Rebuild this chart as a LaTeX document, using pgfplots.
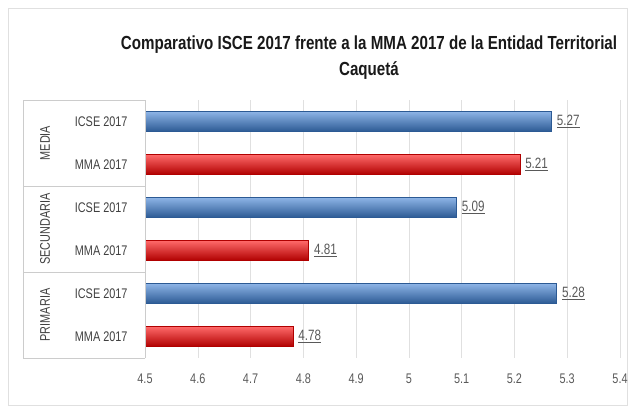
\documentclass[border=0pt]{standalone}
\usepackage{fontspec}
\setmainfont{Liberation Sans}[FakeStretch=0.78]
\newfontfamily\titlefont{Liberation Sans}[FakeStretch=0.8]
\usepackage{pgfplots}
\pgfplotsset{compat=1.18}
\definecolor{bluemid}{HTML}{4A7EC2}
\definecolor{bluetop}{HTML}{8DB4E6}
\definecolor{bluebot}{HTML}{2C5A94}
\definecolor{redmid}{HTML}{F20000}
\definecolor{redtop}{HTML}{FF6A6A}
\definecolor{redbot}{HTML}{B00000}
\pgfplotsset{
  bluebar/.style={draw=bluebot, top color=bluetop, middle color=bluemid, bottom color=bluebot},
  redbar/.style={draw=redbot, top color=redtop, middle color=redmid, bottom color=redbot},
}
\begin{document}
\begin{tikzpicture}[x=1bp,y=1bp]
\path[use as bounding box] (0,0) rectangle (634,410);
\draw[black!12] (8,5) rectangle (627,402);
\node[font=\titlefont\bfseries\fontsize{19}{22}\selectfont, text=black!90] at (369,365) {Comparativo ISCE 2017 frente a la MMA 2017 de la Entidad Territorial};
\node[font=\titlefont\bfseries\fontsize{19}{22}\selectfont, text=black!90] at (369,339) {Caquetá};
\begin{axis}[
  at={(145bp,52bp)}, anchor=south west,
  scale only axis, width=475bp, height=258bp,
  xmin=4.5, xmax=5.4, ymin=-0.5, ymax=5.5,
  xtick={4.5,4.6,4.7,4.8,4.9,5.0,5.1,5.2,5.3,5.4},
  xticklabels={4.5,4.6,4.7,4.8,4.9,5,5.1,5.2,5.3,5.4},
  ytick={0,1,2,3,4,5},
  yticklabels={MMA 2017,ICSE 2017,MMA 2017,ICSE 2017,MMA 2017,ICSE 2017},
  axis line style={draw=none},
  major tick length=0pt,
  xmajorgrids, grid style={black!12},
  /pgf/number format/assume math mode=true,
  xticklabel style={font=\fontsize{14}{16}\selectfont, text=black!65, yshift=-12bp},
  yticklabel style={font=\fontsize{14}{16}\selectfont, text=black!75, xshift=-14bp},
  bar width=20bp,
  xbar, bar shift=0pt,
  nodes near coords={\underline{\pgfmathprintnumber[fixed,fixed zerofill,precision=2]{\pgfplotspointmeta}}},
  nodes near coords align=horizontal,
  every node near coord/.append style={font=\fontsize{15}{17}\selectfont, text=black!65, anchor=west, xshift=2bp},
  point meta=explicit symbolic,
]
% ICSE 2017 (blue)
\addplot[bluebar] coordinates {(5.27,5) [5.27]};
\addplot[bluebar] coordinates {(5.09,3) [5.09]};
\addplot[bluebar] coordinates {(5.28,1) [5.28]};
% MMA 2017 (red)
\addplot[redbar] coordinates {(5.21,4) [5.21]};
\addplot[redbar] coordinates {(4.81,2) [4.81]};
\addplot[redbar] coordinates {(4.78,0) [4.78]};
\end{axis}
\begin{scope}[black!20]
\draw (23,52) -- (23,310);
\draw (145,52) -- (145,310);
\draw (23,310) -- (145,310);
\draw (23,224) -- (145,224);
\draw (23,138) -- (145,138);
\draw (23,52) -- (145,52);
\end{scope}
\begin{scope}[every node/.style={rotate=90, font=\fontsize{14}{16}\selectfont, text=black!75}]
\node at (45,267) {MEDIA};
\node at (45,181) {SECUNDARIA};
\node at (45,95) {PRIMARIA};
\end{scope}
\end{tikzpicture}
\end{document}
